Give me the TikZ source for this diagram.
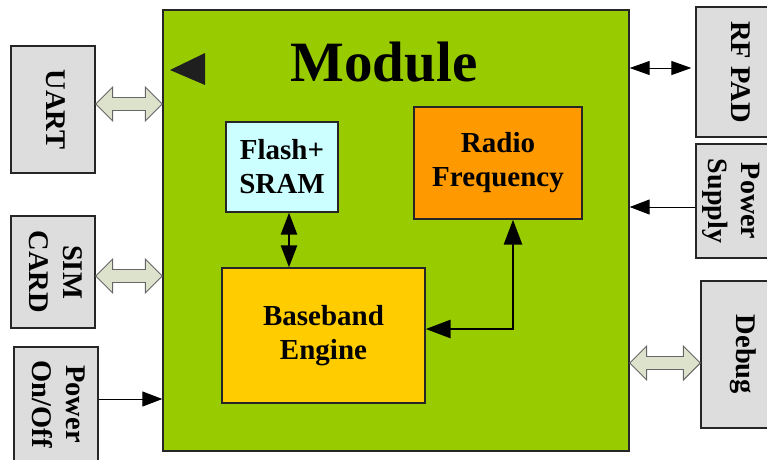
\documentclass[tikz,border=0pt]{standalone}
\usepackage{fontspec}
\setmainfont{Liberation Serif}
\usetikzlibrary{arrows.meta,calc}
\definecolor{modgreen}{HTML}{99CC00}
\definecolor{flashc}{HTML}{CCFFFF}
\definecolor{radioc}{HTML}{FF9900}
\definecolor{bbc}{HTML}{FFCC00}
\definecolor{sidegray}{HTML}{DDDDDD}
\definecolor{hollowfill}{HTML}{DDE2CC}
\definecolor{hollowline}{HTML}{666666}
\newcommand\dblhollow[2]{\draw[hollowarr] (#1) -- ($(#1)+(17,-17)$) -- ($(#1)+(17,-6.5)$) -- ($(#2)+(-17,-6.5)$) -- ($(#2)+(-17,-17)$) -- (#2) -- ($(#2)+(-17,17)$) -- ($(#2)+(-17,6.5)$) -- ($(#1)+(17,6.5)$) -- ($(#1)+(17,17)$) -- cycle;}
\newcommand\vtext[1]{\rotatebox{-90}{\begin{tabular}{@{}c@{}}#1\end{tabular}}}
\begin{document}
\begin{tikzpicture}[x=1pt,y=-1pt,
  blk/.style={draw=black!85, line width=1.3pt, inner sep=0pt, align=center,
    font=\fontsize{29}{34}\selectfont\bfseries},
  side/.style={blk, fill=sidegray, font=\fontsize{28.5}{34}\selectfont\bfseries},
  hollowarr/.style={draw=hollowline, fill=hollowfill, line width=0.9pt, line join=miter},
  thinarr/.style={line width=1pt, -{Triangle[length=20pt,width=15pt]}},
  thinboth/.style={line width=1pt, {Triangle[length=20pt,width=14pt]}-{Triangle[length=20pt,width=14pt]}},
  thickboth/.style={line width=2.6pt, {Triangle[length=22pt,width=16pt]}-{Triangle[length=22pt,width=16pt]}},
  thickboth2/.style={line width=2.8pt, {Triangle[length=25pt,width=18pt]}-{Triangle[length=25pt,width=18pt]}}]
\useasboundingbox (0,0) rectangle (767,459);
\begin{scope}
\clip (0,0) rectangle (767,459);
% main module
\node[blk, fill=modgreen, minimum width=466, minimum height=441] (module) at (396,230.5) {};
\node[inner sep=0pt, font=\fontsize{57}{60}\selectfont\bfseries] (title) at (384,62) {Module};
\fill[black!88] (170,70) -- (205,53) -- (205,85) -- cycle;
% inner blocks
\node[blk, fill=flashc, minimum width=112, minimum height=90] (flash) at (282,167) {Flash+\\SRAM};
\node[blk, fill=radioc, minimum width=168, minimum height=112] (rf) at (498,163) {Radio\\Frequency};
\node[blk, fill=bbc, minimum width=203, minimum height=135] (bb) at (323.5,335.5) {Baseband\\Engine};
% side blocks
\node[side, minimum width=84, minimum height=127] (uart) at (53,109.5) {\vtext{UART}};
\node[side, minimum width=84, minimum height=112] (sim) at (53,272) {\vtext{SIM\\CARD}};
\node[side, minimum width=84, minimum height=114] (pon) at (56,404) {\vtext{Power\\On/Off}};
\node[side, minimum width=84, minimum height=130] (rfpad) at (738,72) {\vtext{RF PAD}};
\node[side, minimum width=72, minimum height=114, font=\fontsize{28}{33}\selectfont\bfseries] (psu) at (732,201) {\vtext{Power\\Supply}};
\node[side, minimum width=84, minimum height=147] (debug) at (743,354.5) {\vtext{Debug}};
% hollow double arrows
\coordinate (u1) at ($(uart.east)+(0,-5.5)$);
\coordinate (u2) at (u1 -| module.west);
\dblhollow{u1}{u2}
\coordinate (s1) at ($(sim.east)+(0,4)$);
\coordinate (s2) at (s1 -| module.west);
\dblhollow{s1}{s2}
\coordinate (d2) at ($(debug.west)+(0,8.5)$);
\coordinate (d1) at (d2 -| module.east);
\dblhollow{d1}{d2}
% thin arrows
\coordinate (p1) at ($(pon.east)+(0,-5)$);
\draw[thinarr] (p1) -- (p1 -| module.west);
\coordinate (r1) at ($(rfpad.west)+(-4,-4)$);
\draw[thinboth] (r1 -| module.east) -- (r1);
\coordinate (q1) at ($(psu.west)+(0,6)$);
\draw[thinarr] (q1) -- (q1 -| module.east);
% inner arrows
\coordinate (f1) at ($(flash.south)+(7,0)$);
\draw[thickboth] (f1) -- (f1 |- bb.north);
\coordinate (b1) at ($(rf.south)+(15,0)$);
\coordinate (b2) at ($(bb.east)+(0,-6.5)$);
\draw[thickboth2] (b2) -- (b2 -| b1) -- (b1);
\end{scope}
\end{tikzpicture}
\end{document}
